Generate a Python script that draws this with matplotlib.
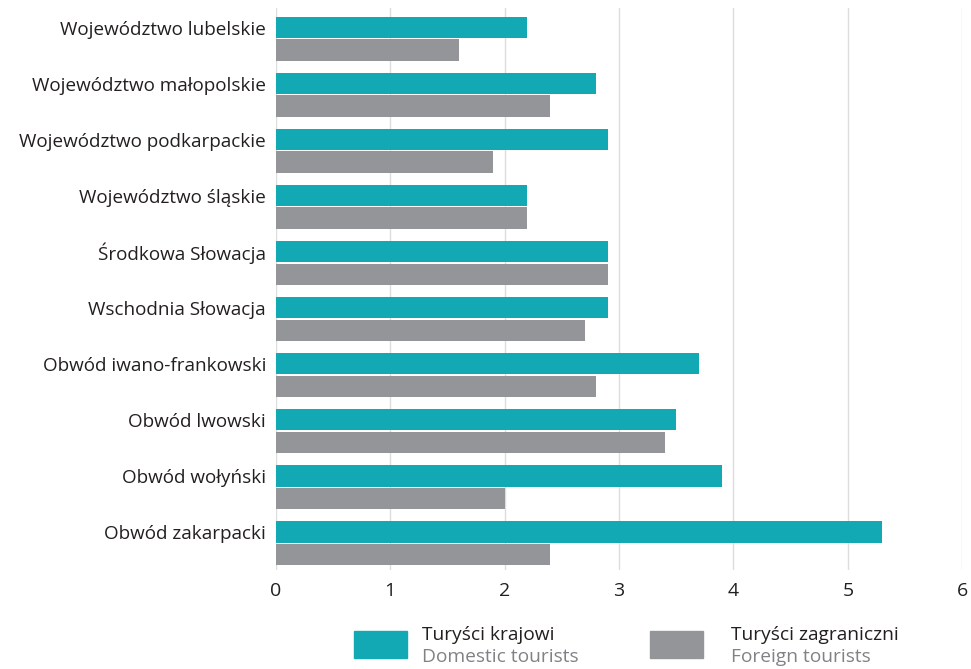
import matplotlib.pyplot as plt
from matplotlib.patches import Rectangle
import numpy as np

regions = ['Województwo lubelskie', 'Województwo małopolskie', 'Województwo podkarpackie',
           'Województwo śląskie', 'Środkowa Słowacja', 'Wschodnia Słowacja',
           'Obwód iwano-frankowski', 'Obwód lwowski', 'Obwód wołyński', 'Obwód zakarpacki']
domestic = [2.2, 2.8, 2.9, 2.2, 2.9, 2.9, 3.7, 3.5, 3.9, 5.3]
foreign = [1.6, 2.4, 1.9, 2.2, 2.9, 2.7, 2.8, 3.4, 2.0, 2.4]

teal = '#12a9b4'
grey = '#939598'
dark = '#231f20'
plt.rcParams['font.family'] = ['Open Sans', 'DejaVu Sans']

fig = plt.figure(figsize=(9.71, 6.69), dpi=100)
ax = fig.add_axes([0.284, 0.148, 0.707, 0.84])

y = np.arange(len(regions))
h = 0.38
ax.barh(y - h / 2 - 0.01, domestic, height=h, color=teal, zorder=3)
ax.barh(y + h / 2 + 0.01, foreign, height=h, color=grey, zorder=3)

ax.set_xlim(0, 6)
ax.set_ylim(9.48, -0.55)
# labels sit level with the domestic bar
ax.set_yticks(y - h / 2 - 0.01)
ax.set_yticklabels(regions, fontsize=13.6, color=dark)
ax.set_xticks(range(7))
ax.tick_params(axis='x', labelsize=14, colors=dark, length=0, pad=9)
ax.tick_params(axis='y', length=0, pad=7)
ax.grid(axis='x', color='#dddddd', linewidth=1, zorder=0)
for s in ax.spines.values():
    s.set_visible(False)

# legend
fig.patches.append(Rectangle((0.3646, 0.0164), 0.0546, 0.040, transform=fig.transFigure, color=teal))
fig.text(0.4346, 0.0433, 'Turyści krajowi', fontsize=13.8, color=dark, va='baseline')
fig.text(0.4346, 0.0105, 'Domestic tourists', fontsize=13.8, color='#808285', va='baseline')
fig.patches.append(Rectangle((0.6694, 0.0164), 0.0546, 0.040, transform=fig.transFigure, color=grey))
fig.text(0.7528, 0.0433, 'Turyści zagraniczni', fontsize=13.8, color=dark, va='baseline')
fig.text(0.7528, 0.0105, 'Foreign tourists', fontsize=13.8, color='#808285', va='baseline')

plt.savefig('out.png', dpi=100)
